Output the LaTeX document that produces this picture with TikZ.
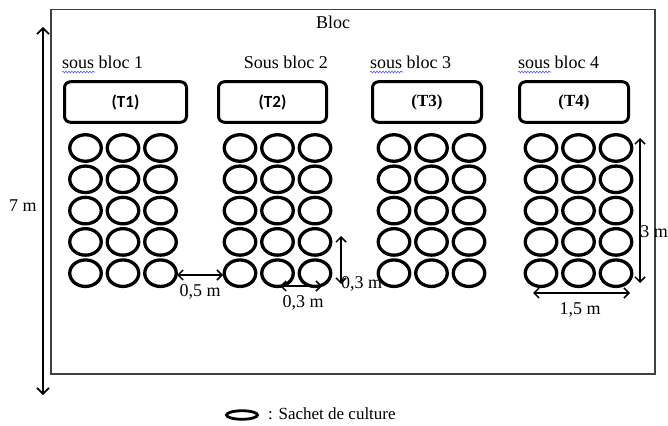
\documentclass[tikz,border=0pt]{standalone}
\usepackage{fontspec}
\setmainfont{Liberation Serif}
\newfontfamily\calibri{Carlito}
\newcommand\etiq{\bfseries\fontsize{17}{19}\selectfont}
\usetikzlibrary{shapes.geometric,arrows.meta,decorations.pathmorphing}

\begin{document}
\begin{tikzpicture}[x=1pt,y=-1pt,
  sachet/.style={draw,ellipse,line width=3.3pt,minimum width=31.5pt,minimum height=26.5pt,inner sep=0pt},
  traitement/.style={draw,rounded corners=6pt,line width=3pt,minimum height=40.5pt,inner sep=0pt},
  txt/.style={font=\fontsize{18}{20}\selectfont,inner sep=0pt},
  cote/.style={{Straight Barb[length=5pt,width=10pt]}-{Straight Barb[length=5pt,width=10pt]},line width=1.5pt},
  grandecote/.style={{Straight Barb[length=6pt,width=12pt]}-{Straight Barb[length=6pt,width=12pt]},line width=1.6pt},
  souligne/.style={draw=blue!65,line width=0.6pt,decorate,decoration={snake,amplitude=0.9pt,segment length=3pt}},
]
\useasboundingbox (0,0) rectangle (668,425);

% the block
\node[draw=black!75,line width=1.3pt,minimum width=604pt,minimum height=364.5pt,inner sep=0pt] (bloc) at (353,191.75) {};
\node[txt,anchor=base] (titre) at (333,29) {Bloc};

% height of the block
\coordinate (h-haut) at (43,27);
\coordinate (h-bas) at (43,395);
\draw[grandecote] (h-haut) -- (h-bas);
\node[txt] (h-txt) at (23,206) {7 m};

% sub-block titles
\node[txt,anchor=base west] (sb1) at (62,68.5) {sous bloc 1};
\node[txt,anchor=base east] (sb2) at (328,68.5) {Sous bloc 2};
\node[txt,anchor=base west] (sb3) at (370,68.5) {sous bloc 3};
\node[txt,anchor=base west] (sb4) at (518,68.5) {sous bloc 4};
\foreach \s in {sb1,sb3,sb4}
  \draw[souligne] ([yshift=-3.5pt]\s.base west) -- ++(33,0);

% treatment boxes
\node[traitement,minimum width=122pt] (t1) at (125.5,102) {\calibri\etiq (T1)};
\node[traitement,minimum width=108pt] (t2) at (272.5,102) {\calibri\etiq (T2)};
\node[traitement,minimum width=109pt] (t3) at (427,102) {\etiq (T3)};
\node[traitement,minimum width=109pt] (t4) at (574,102) {\etiq (T4)};

% culture bags, 5 rows x 3 columns per sub-block
\foreach \b/\x in {1/85.5,2/240,3/394,4/541}
  \foreach \r in {1,...,5}
    \foreach \c in {1,2,3}
      \node[sachet] (e-\b-\r-\c) at ({\x+37.5*(\c-1)},{148+31.3*(\r-1)}) {};

% spacing between sub-blocks
\coordinate (d05a) at (177,275);
\coordinate (d05b) at (223,275);
\draw[cote] (d05a) -- (d05b);
\node[txt] (d05) at (200,292) {0,5 m};

% spacing between bags
\coordinate (d03a) at (280,286);
\coordinate (d03b) at (322,286);
\draw[cote] (d03a) -- (d03b);
\node[txt] (d03) at (303,303) {0,3 m};

\coordinate (v03a) at (341,236);
\coordinate (v03b) at (341,284);
\draw[cote] (v03a) -- (v03b);
\node[txt] (v03) at (361.5,284) {0,3 m};

% sub-block size
\coordinate (l3a) at (640,138);
\coordinate (l3b) at (640,283);
\draw[cote] (l3a) -- (l3b);
\node[txt] (l3) at (654,232) {3 m};

\coordinate (l15a) at (533,293);
\coordinate (l15b) at (630,293);
\draw[cote] (l15a) -- (l15b);
\node[txt] (l15) at (580,310) {1,5 m};

% legend
\node[draw,ellipse,line width=2.8pt,minimum width=31pt,minimum height=8.5pt,inner sep=0pt] (leg) at (242,415) {};
\node[font=\fontsize{17}{19}\selectfont,inner sep=0pt,anchor=west] (leg-txt) at (268,414) {: Sachet de culture};
\end{tikzpicture}
\end{document}
